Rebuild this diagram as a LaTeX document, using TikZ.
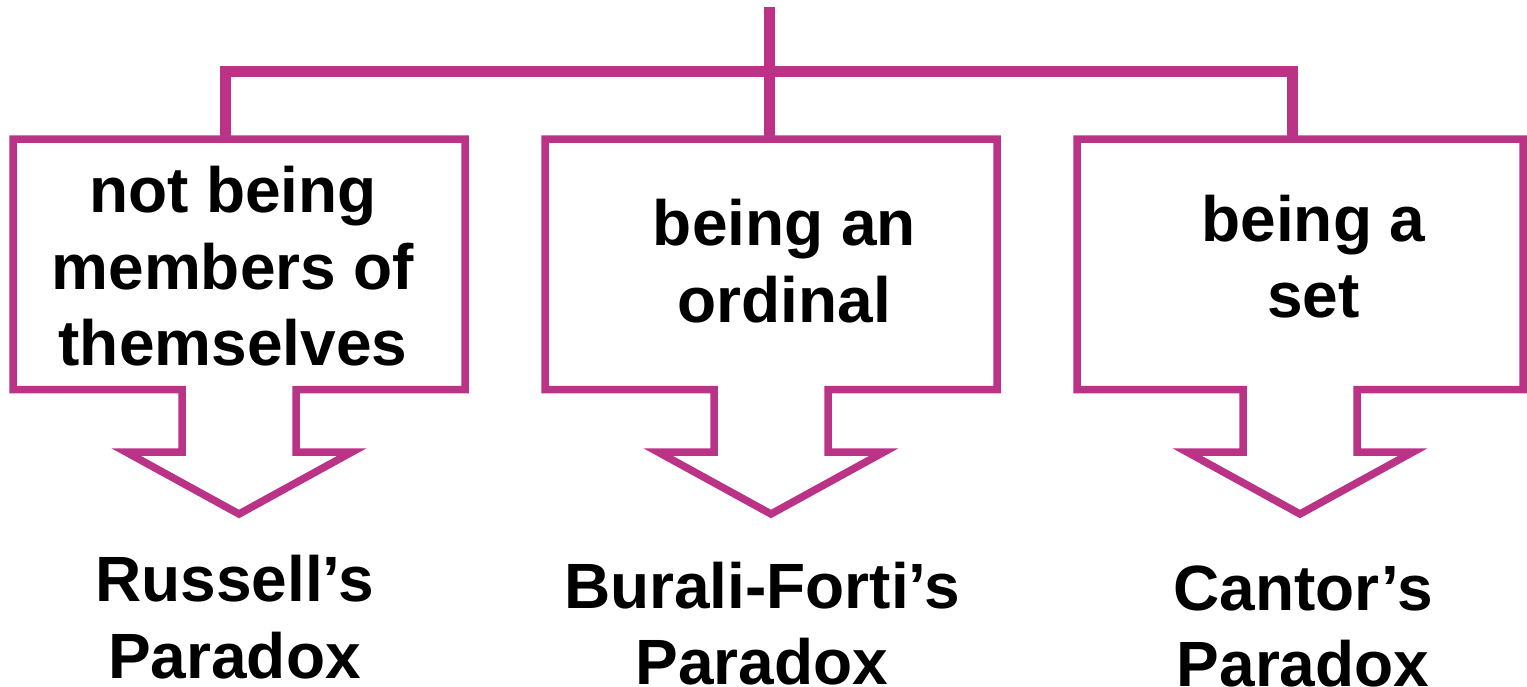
\documentclass[tikz,border=0pt]{standalone}
\usepackage{fontspec}
\setmainfont{Liberation Sans}
\usetikzlibrary{calc}
\definecolor{plum}{RGB}{187,51,135}
\begin{document}
\begin{tikzpicture}[x=1pt,y=-1pt,
  frame/.style={draw=plum,line width=7.5pt,fill=white,line join=miter},
  bus/.style={draw=plum,line width=11pt,line join=miter},
  boxarea/.style={minimum width=#1,minimum height=250.5pt,inner sep=0pt,outer sep=0pt},
  txt/.style={align=center,font=\fontsize{64}{76.5}\selectfont\bfseries,inner sep=0pt,anchor=base}]
\useasboundingbox (0,0) rectangle (1527,686);

% the three property boxes
\node[boxarea=452pt] (box1) at (239,264.25) {};
\node[boxarea=452pt] (box2) at (771,264.25) {};
\node[boxarea=446pt] (box3) at (1300,264.25) {};

% feed line from above and the bus to the boxes
\coordinate (root) at (769,7);
\coordinate (busL) at (225.3,71);
\coordinate (busR) at (1292.8,71);
\draw[bus] (root) -- (root |- box2.north);
\draw[bus] (busL |- box1.north) -- (busL) -- (busR) -- (busR |- box3.north);

% boxes with a hollow down arrow below each
\foreach \b in {box1,box2,box3}
  \draw[frame] (\b.north west) -- (\b.north east) -- (\b.south east)
    -- ($(\b.south)+(57,0)$) -- ++(0,62.5) -- ++(56,0)
    -- ($(\b.south)+(0,124.5)$)
    -- ($(\b.south)+(-113,62.5)$) -- ++(56,0)
    -- ($(\b.south)+(-57,0)$) -- (\b.south west) -- cycle;

% properties (anchored at the baseline of the last line)
\node[txt] (t1) at (233,365.7) {not being\\members of\\themselves};
\node[txt] (t2) at (784.5,322) {being an\\ordinal};
\node[txt] (t3) at (1313.5,317.5) {being a\\set};

% resulting paradoxes
\node[txt] (r1) at (234.5,678.3) {Russell’s\\Paradox};
\node[txt] (r2) at (762,684.5) {Burali-Forti’s\\Paradox};
\node[txt] (r3) at (1303,686.5) {Cantor’s\\Paradox};
\end{tikzpicture}
\end{document}
